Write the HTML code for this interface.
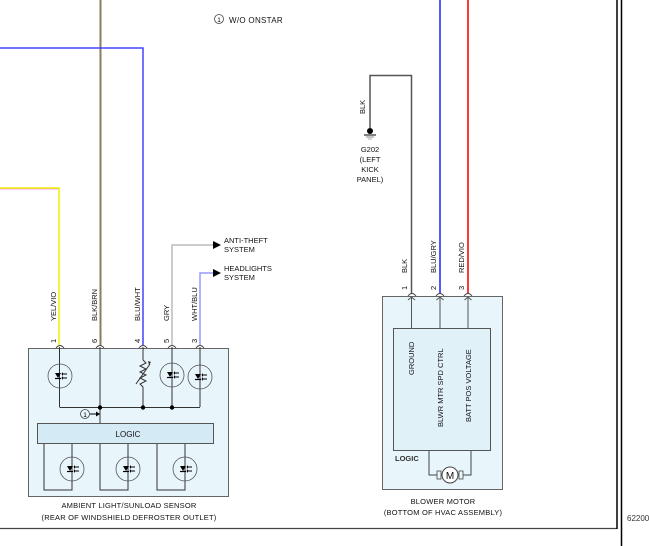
<!DOCTYPE html>
<html><head><style>
html,body{margin:0;padding:0;background:#fff;}
svg{display:block;font-family:"Liberation Sans",Arial,sans-serif;}
</style></head><body>
<svg width="649" height="546" viewBox="0 0 649 546" xmlns="http://www.w3.org/2000/svg">
<defs>
<g id="led">
  <circle cx="0" cy="0" r="12" fill="none" stroke="#555" stroke-width="0.8"/>
  <polygon points="-5,-3 1,-3 -2,2" fill="#000"/>
  <line x1="-5" y1="2.5" x2="1" y2="2.5" stroke="#000" stroke-width="1.2"/>
  <line x1="3" y1="-2" x2="7" y2="-2" stroke="#000" stroke-width="1"/>
  <line x1="3" y1="2" x2="7" y2="2" stroke="#000" stroke-width="1"/>
  <polygon points="3,-4 3,0 1.5,-2" fill="#000"/>
  <polygon points="3,0 3,4 1.5,2" fill="#000"/>
</g>
<g id="pin">
  <path d="M-4,3 Q0,-2 4,3" fill="none" stroke="#444" stroke-width="1"/>
</g>
</defs>

<!-- frame lines -->
<line x1="0" y1="528.5" x2="617" y2="528.5" stroke="#444" stroke-width="1.2"/>
<line x1="617" y1="0" x2="617" y2="529" stroke="#000" stroke-width="1.5"/>
<line x1="621.5" y1="0" x2="621.5" y2="546" stroke="#000" stroke-width="1.5"/>
<text x="627" y="521" font-size="8" fill="#333">62200</text>

<!-- top note -->
<circle cx="219" cy="19" r="4.5" fill="none" stroke="#444" stroke-width="0.8"/>
<text x="219" y="22" font-size="6" text-anchor="middle" fill="#000">1</text>
<text x="229" y="23" font-size="8" fill="#111" letter-spacing="0.3">W/O ONSTAR</text>

<!-- left wires -->
<polyline points="0,189 59,189 59,345" fill="none" stroke="#f9f" stroke-width="1"/>
<polyline points="0,188 59,188 59,345" fill="none" stroke="#ee0" stroke-width="1.5"/>
<line x1="100.5" y1="0" x2="100.5" y2="345" stroke="#8b7b62" stroke-width="2"/>
<polyline points="0,48 143,48 143,345" fill="none" stroke="#44f" stroke-width="1.5"/>
<polyline points="214,245 172,245 172,345" fill="none" stroke="#bbb" stroke-width="1.5"/>
<polyline points="214,273 200,273 200,345" fill="none" stroke="#99f" stroke-width="1.5"/>
<polygon points="213,241 221,245 213,249" fill="#000"/>
<polygon points="213,269 221,273 213,277" fill="#000"/>
<text x="224" y="243" font-size="7.5" fill="#111">ANTI-THEFT</text>
<text x="224" y="252" font-size="7.5" fill="#111">SYSTEM</text>
<text x="224" y="271" font-size="7.5" fill="#111">HEADLIGHTS</text>
<text x="224" y="280" font-size="7.5" fill="#111">SYSTEM</text>

<!-- wire labels left -->
<g font-size="7.5" fill="#111">
<text transform="translate(56,321) rotate(-90)">YEL/VIO</text>
<text transform="translate(97,321) rotate(-90)">BLK/BRN</text>
<text transform="translate(140,321) rotate(-90)">BLU/WHT</text>
<text transform="translate(169,321) rotate(-90)">GRY</text>
<text transform="translate(197,321) rotate(-90)">WHT/BLU</text>
<text transform="translate(56,343) rotate(-90)">1</text>
<text transform="translate(97,343) rotate(-90)">6</text>
<text transform="translate(140,343) rotate(-90)">4</text>
<text transform="translate(169,343) rotate(-90)">5</text>
<text transform="translate(197,343) rotate(-90)">3</text>
</g>

<!-- left box -->
<rect x="28.5" y="348.5" width="200" height="148" fill="#e8f5fb" stroke="#666" stroke-width="1"/>
<use href="#pin" x="60" y="345"/><use href="#pin" x="100" y="345"/><use href="#pin" x="143" y="345"/><use href="#pin" x="172" y="345"/><use href="#pin" x="200" y="345"/>
<g stroke="#333" stroke-width="1" fill="none">
<line x1="59.5" y1="347" x2="59.5" y2="407"/>
<line x1="100" y1="347" x2="100" y2="423"/>
<line x1="143" y1="347" x2="143" y2="360"/>
<polyline points="143,360 146,363 140,366 146,369 140,372 146,375 140,378 146,381 140,384 143,387 143,407"/>
<line x1="136" y1="384" x2="150" y2="364"/>
<line x1="172" y1="347" x2="172" y2="407"/>
<line x1="200" y1="347" x2="200" y2="407"/>
<line x1="59.5" y1="407.5" x2="200" y2="407.5"/>
</g>
<polygon points="148,361 151,362 149,365" fill="#333"/>
<circle cx="100" cy="407.5" r="2.2" fill="#000"/>
<circle cx="143" cy="407.5" r="2.2" fill="#000"/>
<circle cx="172" cy="407.5" r="2.2" fill="#000"/>
<use href="#led" x="60" y="376"/>
<use href="#led" x="172" y="375"/>
<use href="#led" x="200" y="377"/>
<circle cx="85" cy="414" r="4.5" fill="none" stroke="#444" stroke-width="0.8"/>
<text x="85" y="417" font-size="6.5" text-anchor="middle">1</text>
<line x1="90" y1="414" x2="97" y2="414" stroke="#000" stroke-width="1"/>
<polygon points="96,411.5 100,414 96,416.5" fill="#000"/>
<rect x="37.5" y="423.5" width="176" height="20" fill="#d4ebf5" stroke="#555" stroke-width="1"/>
<text x="128" y="437" font-size="8" text-anchor="middle" fill="#111">LOGIC</text>
<g stroke="#333" stroke-width="1" fill="none">
<polyline points="44,444 44,490 72,490 72,444"/>
<polyline points="100,444 100,490 128,490 128,444"/>
<polyline points="157,444 157,490 185,490 185,444"/>
</g>
<use href="#led" x="72" y="469"/>
<use href="#led" x="128" y="469"/>
<use href="#led" x="185" y="469"/>
<text x="129" y="508" font-size="7.5" text-anchor="middle" fill="#111" letter-spacing="0.2">AMBIENT LIGHT/SUNLOAD SENSOR</text>
<text x="129" y="520" font-size="7.5" text-anchor="middle" fill="#111" letter-spacing="0.2">(REAR OF WINDSHIELD DEFROSTER OUTLET)</text>

<!-- right wires -->
<polyline points="370,128 370,75.5 411.5,75.5 411.5,293" fill="none" stroke="#555" stroke-width="1.5"/>
<line x1="440" y1="0" x2="440" y2="293" stroke="#44f" stroke-width="1.8"/>
<line x1="468" y1="0" x2="468" y2="293" stroke="#f22" stroke-width="1.8"/>
<circle cx="370" cy="131" r="3" fill="#000"/>
<line x1="364" y1="135" x2="376" y2="135" stroke="#000" stroke-width="1"/>
<line x1="366" y1="137" x2="374" y2="137" stroke="#888" stroke-width="1"/>
<line x1="368" y1="139" x2="372" y2="139" stroke="#aaa" stroke-width="1"/>
<g font-size="7.5" fill="#111" text-anchor="middle">
<text x="370" y="152">G202</text>
<text x="370" y="162">(LEFT</text>
<text x="370" y="172">KICK</text>
<text x="370" y="182">PANEL)</text>
</g>
<g font-size="7.5" fill="#111">
<text transform="translate(365,114) rotate(-90)">BLK</text>
<text transform="translate(407,273) rotate(-90)">BLK</text>
<text transform="translate(436,273) rotate(-90)">BLU/GRY</text>
<text transform="translate(464,273) rotate(-90)">RED/VIO</text>
<text transform="translate(407,290) rotate(-90)">1</text>
<text transform="translate(436,290) rotate(-90)">2</text>
<text transform="translate(464,290) rotate(-90)">3</text>
</g>

<!-- blower box -->
<rect x="382.5" y="296.5" width="120" height="193" fill="#e8f5fb" stroke="#666" stroke-width="1"/>
<use href="#pin" x="412" y="293"/><use href="#pin" x="440" y="293"/><use href="#pin" x="468" y="293"/>
<g stroke="#555" stroke-width="1" fill="none">
<line x1="411.5" y1="297" x2="411.5" y2="328"/>
<line x1="440" y1="297" x2="440" y2="328"/>
<line x1="468" y1="297" x2="468" y2="328"/>
<path d="M408,300 L411.5,297 L415,300 M436.5,300 L440,297 L443.5,300 M464.5,300 L468,297 L471.5,300"/>
</g>
<rect x="393.5" y="328.5" width="97" height="122" fill="#e0f1f8" stroke="#555" stroke-width="1"/>
<g font-size="7.5" fill="#111">
<text transform="translate(414,375) rotate(-90)">GROUND</text>
<text transform="translate(443,427) rotate(-90)">BLWR MTR SPD CTRL</text>
<text transform="translate(471,422) rotate(-90)">BATT POS VOLTAGE</text>
</g>
<text x="395" y="461" font-size="7.5" font-weight="bold" fill="#333">LOGIC</text>
<polyline points="429,451 429,475 437,475" fill="none" stroke="#444" stroke-width="1"/>
<polyline points="471,451 471,475 463,475" fill="none" stroke="#444" stroke-width="1"/>
<rect x="437" y="471" width="4" height="8" fill="none" stroke="#444" stroke-width="0.8"/>
<rect x="459" y="471" width="4" height="8" fill="none" stroke="#444" stroke-width="0.8"/>
<circle cx="450" cy="475" r="8" fill="#fff" stroke="#444" stroke-width="1"/>
<text x="450" y="479" font-size="10" text-anchor="middle" fill="#111">M</text>
<text x="443" y="504" font-size="7.5" text-anchor="middle" fill="#111" letter-spacing="0.2">BLOWER MOTOR</text>
<text x="443" y="515" font-size="7.5" text-anchor="middle" fill="#111" letter-spacing="0.2">(BOTTOM OF HVAC ASSEMBLY)</text>
</svg>
</body></html>
